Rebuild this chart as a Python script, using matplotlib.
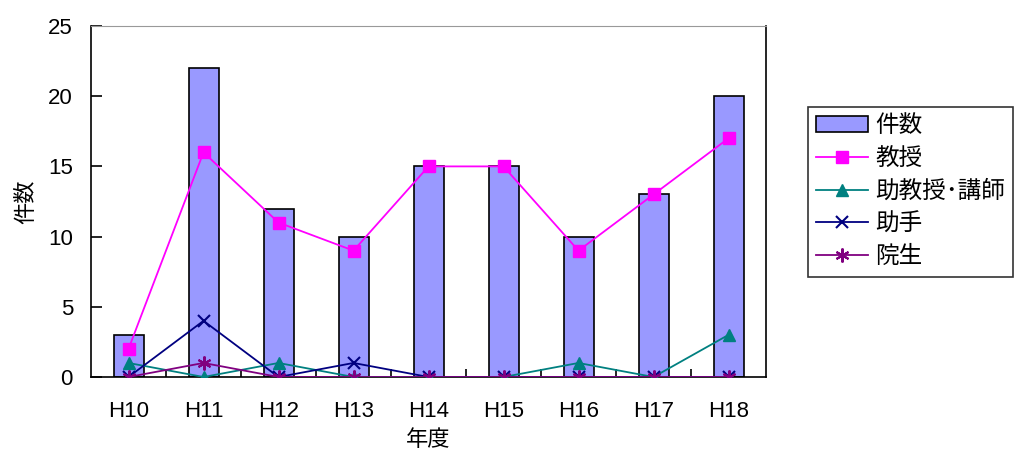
import numpy as np
import matplotlib.pyplot as plt

plt.rcParams['font.family'] = ['Liberation Sans', 'Noto Sans CJK JP', 'DejaVu Sans']

years = ['H10', 'H11', 'H12', 'H13', 'H14', 'H15', 'H16', 'H17', 'H18']
total = [3, 22, 12, 10, 15, 15, 10, 13, 20]
professor = [2, 16, 11, 9, 15, 15, 9, 13, 17]
assoc_lecturer = [1, 0, 1, 0, 0, 0, 1, 0, 3]
assistant = [0, 4, 0, 1, 0, 0, 0, 0, 0]
grad_student = [0, 1, 0, 0, 0, 0, 0, 0, 0]

x = np.arange(len(years))
fs = 16

fig = plt.figure(figsize=(10.19, 4.58), dpi=100)
ax = fig.add_axes([91 / 1019, 81 / 458, 675 / 1019, 351 / 458])

bars = ax.bar(x, total, width=0.4, color='#9999FF', edgecolor='black', linewidth=1.2,
              label='件数', zorder=2)
l1, = ax.plot(x, professor, color='#FF00FF', marker='s', markersize=8, lw=1.3,
              label='教授', zorder=3)
l2, = ax.plot(x, assoc_lecturer, color='#008080', marker='^', markersize=8, lw=1.3,
              label='助教授･講師', zorder=3)
l3, = ax.plot(x, assistant, color='#000080', marker='x', markersize=9, mew=1.5, lw=1.3,
              label='助手', zorder=3)
l4, = ax.plot(x, grad_student, color='#800080', marker=(6, 2, 0), markersize=10, mew=1.5,
              lw=1.3, label='院生', zorder=3)

ax.set_xlim(-0.5, len(years) - 0.5)
ax.set_ylim(0, 25)
ax.set_yticks(range(0, 26, 5))
ax.set_xticks(x)
ax.set_xticklabels(years)
ax.set_xticks(np.arange(0.5, len(years) - 0.5), minor=True)
ax.tick_params(axis='x', which='major', length=0, pad=17, labelsize=fs)
ax.tick_params(axis='x', which='minor', direction='in', length=6, width=1.2)
ax.tick_params(axis='y', direction='in', length=8, width=1.2, labelsize=fs, pad=13)

for side in ['left', 'bottom', 'right']:
    ax.spines[side].set_linewidth(1.2)
ax.spines['top'].set_color('#999999')
ax.spines['top'].set_linewidth(0.8)

ax.set_xlabel('年度', fontsize=fs, labelpad=6)
ax.set_ylabel('件数', fontsize=fs, labelpad=8)

leg = ax.legend([bars, l1, l2, l3, l4], ['件数', '教授', '助教授･講師', '助手', '院生'],
                loc='upper left',
                bbox_to_anchor=((808 - 91) / 675, 1 - (107 - 26) / 351),
                fontsize=17, frameon=True, fancybox=False, edgecolor='black',
                handlelength=2.2, borderpad=0.35, borderaxespad=0,
                labelspacing=0.45, handletextpad=0.3)
leg.get_frame().set_linewidth(1.2)

fig.savefig('out.png', dpi=100)
